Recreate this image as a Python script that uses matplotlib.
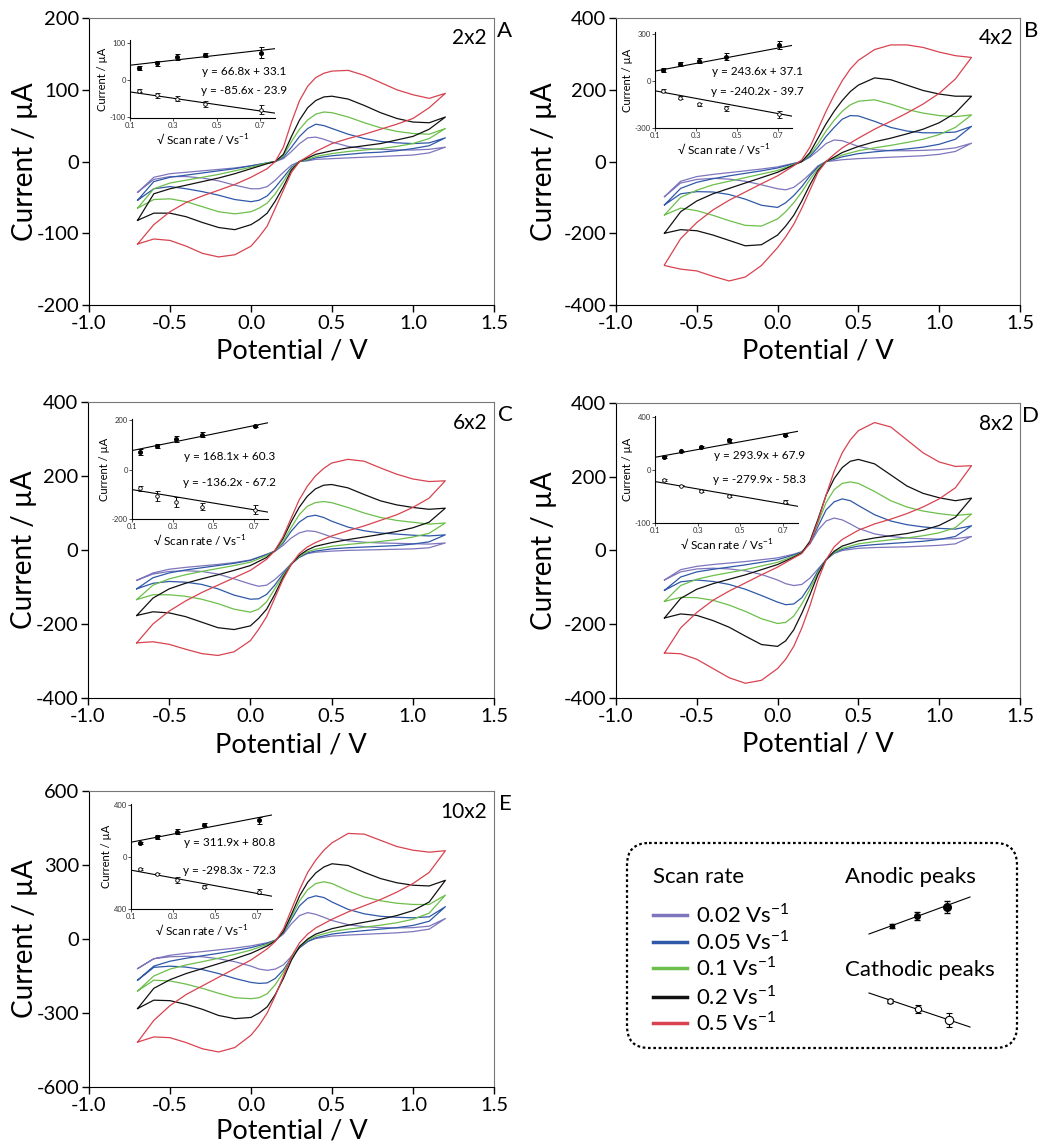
import matplotlib
matplotlib.use('Agg')
import matplotlib.pyplot as plt
import numpy as np
from matplotlib.patches import FancyBboxPatch

plt.rcParams['font.family'] = ['Lato', 'DejaVu Sans']
plt.rcParams['mathtext.fontset'] = 'custom'
plt.rcParams['mathtext.rm'] = 'Lato'
plt.rcParams['axes.unicode_minus'] = False

## scan rates (V/s) and colours
scan_rates = [0.02, 0.05, 0.1, 0.2, 0.5]
rate_labels = ['0.02 Vs$^{-1}$', '0.05 Vs$^{-1}$', '0.1 Vs$^{-1}$', '0.2 Vs$^{-1}$', '0.5 Vs$^{-1}$']
colors = ['#7d76bd', '#2f58a8', '#6cbf4a', '#111111', '#d8434f']

## potentials of the read points (forward sweep up, reverse sweep down)
E_fwd = [-0.7, -0.6, -0.5, -0.4, -0.3, -0.2, -0.1, 0.0, 0.1, 0.15, 0.2, 0.25, 0.3, 0.35, 0.4, 0.45, 0.5, 0.6, 0.7, 0.8, 0.9, 1.0, 1.1, 1.2]
E_rev = [1.2, 1.1, 1.0, 0.9, 0.8, 0.7, 0.6, 0.5, 0.4, 0.35, 0.3, 0.25, 0.2, 0.15, 0.1, 0.05, 0.0, -0.1, -0.2, -0.3, -0.4, -0.5, -0.6, -0.7]

## currents (uA), one row per scan rate
A_fwd = [[-43, -22, -17, -15, -13, -11, -9, -6, -2, 0, 4, 14, 25, 33, 34, 31, 27, 21, 18, 17, 16, 16, 17, 20],
         [-54, -28, -22, -19, -16, -13, -10, -6, -2, 0, 6, 20, 35, 46, 52, 50, 46, 38, 32, 28, 26, 25, 26, 33],
         [-65, -38, -30, -26, -22, -18, -13, -8, -2, 0, 8, 28, 45, 58, 66, 69, 68, 62, 54, 47, 42, 39, 38, 46],
         [-82, -45, -38, -33, -28, -23, -17, -10, -3, 0, 10, 35, 58, 75, 85, 90, 91, 87, 78, 68, 60, 55, 54, 62],
         [-115, -88, -70, -57, -48, -40, -32, -22, -10, 0, 20, 55, 85, 105, 117, 123, 126, 127, 120, 110, 100, 93, 88, 95]]
A_rev = [[20, 12, 9, 8, 7, 6, 5, 4, 3, 1, 0, -5, -15, -26, -35, -38, -38, -33, -27, -23, -21, -21, -25, -43],
         [33, 22, 18, 15, 13, 12, 10, 8, 5, 2, 0, -8, -22, -36, -48, -54, -56, -53, -47, -42, -38, -35, -38, -54],
         [46, 32, 25, 21, 18, 16, 14, 11, 7, 3, 0, -10, -28, -45, -58, -65, -70, -73, -70, -63, -56, -52, -53, -65],
         [62, 45, 35, 30, 25, 22, 19, 15, 10, 5, 0, -12, -35, -55, -72, -81, -88, -95, -92, -85, -77, -72, -72, -82],
         [95, 75, 60, 52, 45, 38, 32, 25, 14, 7, 0, -15, -40, -65, -90, -105, -118, -130, -133, -128, -118, -110, -108, -115]]

B_fwd = [[-98, -55, -42, -36, -31, -26, -21, -15, -5, 0, 12, 30, 50, 60, 58, 50, 42, 33, 30, 30, 31, 33, 38, 51],
         [-121, -75, -58, -48, -40, -33, -26, -18, -6, 0, 15, 40, 70, 95, 118, 128, 127, 112, 95, 85, 80, 80, 82, 98],
         [-149, -100, -80, -65, -55, -45, -35, -25, -8, 0, 20, 50, 85, 115, 140, 158, 168, 172, 160, 145, 135, 128, 125, 130],
         [-200, -140, -110, -90, -75, -60, -45, -30, -10, 0, 25, 65, 105, 140, 170, 195, 213, 233, 228, 213, 198, 188, 182, 182],
         [-288, -215, -170, -135, -108, -85, -62, -40, -12, 5, 40, 90, 140, 185, 225, 258, 282, 312, 325, 325, 318, 305, 295, 290]]
B_rev = [[51, 28, 20, 16, 14, 12, 10, 8, 5, 2, 0, -12, -35, -55, -72, -79, -76, -65, -55, -49, -47, -50, -60, -98],
         [98, 62, 48, 40, 35, 31, 27, 22, 13, 6, 0, -15, -40, -70, -95, -115, -128, -122, -105, -92, -85, -84, -90, -121],
         [130, 95, 75, 62, 53, 45, 38, 30, 18, 9, 0, -20, -50, -85, -115, -140, -160, -180, -178, -165, -150, -137, -130, -149],
         [182, 135, 108, 90, 77, 65, 55, 42, 25, 12, 0, -25, -65, -110, -150, -180, -205, -232, -235, -220, -205, -193, -190, -200],
         [290, 230, 190, 160, 135, 112, 90, 65, 38, 20, 0, -30, -80, -130, -175, -210, -240, -290, -322, -333, -320, -305, -300, -290]]

C_fwd = [[-82, -62, -52, -47, -43, -39, -34, -27, -12, -4, 12, 32, 46, 52, 50, 43, 35, 25, 21, 19, 18, 17, 16, 19],
         [-105, -75, -62, -54, -48, -42, -36, -28, -12, -3, 18, 50, 75, 90, 94, 88, 78, 62, 52, 46, 43, 40, 38, 41],
         [-134, -95, -78, -67, -58, -50, -42, -33, -15, -3, 22, 60, 95, 118, 128, 131, 128, 115, 100, 88, 80, 75, 70, 73],
         [-177, -130, -105, -90, -78, -67, -55, -42, -20, -2, 30, 75, 115, 145, 165, 175, 177, 168, 150, 133, 122, 115, 110, 113],
         [-251, -200, -165, -138, -115, -95, -75, -55, -25, -2, 35, 85, 135, 172, 200, 220, 235, 245, 240, 222, 205, 192, 185, 187]]
C_rev = [[19, 6, 3, 2, 1, 0, -1, -3, -6, -10, -20, -38, -60, -80, -95, -98, -92, -78, -65, -58, -56, -58, -65, -82],
         [41, 22, 16, 12, 10, 8, 6, 3, -3, -8, -20, -38, -65, -95, -120, -132, -133, -122, -105, -93, -87, -85, -90, -105],
         [73, 45, 35, 28, 23, 19, 15, 10, 2, -5, -18, -38, -70, -105, -140, -160, -168, -160, -145, -133, -125, -121, -121, -134],
         [113, 75, 60, 50, 42, 35, 28, 20, 10, 0, -15, -40, -75, -120, -160, -185, -205, -215, -210, -195, -180, -170, -167, -177],
         [187, 140, 115, 95, 80, 65, 52, 38, 20, 8, -10, -40, -80, -130, -180, -215, -245, -275, -285, -280, -268, -255, -248, -251]]

D_fwd = [[-80, -52, -43, -38, -34, -30, -25, -20, -10, -3, 18, 55, 80, 88, 83, 72, 60, 45, 38, 34, 32, 31, 32, 38],
         [-108, -72, -58, -51, -45, -39, -32, -25, -12, -4, 20, 65, 110, 132, 140, 135, 122, 97, 80, 70, 64, 60, 58, 67],
         [-138, -95, -78, -68, -60, -52, -42, -32, -15, -5, 22, 75, 130, 165, 182, 186, 182, 160, 135, 118, 107, 100, 95, 99],
         [-183, -130, -105, -90, -78, -66, -52, -38, -18, -6, 25, 85, 150, 195, 225, 242, 247, 235, 205, 175, 155, 143, 135, 142],
         [-278, -210, -168, -135, -110, -88, -66, -45, -20, -8, 20, 80, 150, 215, 265, 300, 325, 347, 335, 300, 265, 240, 228, 230]]
D_rev = [[38, 18, 14, 12, 10, 9, 8, 6, 0, -8, -25, -50, -75, -92, -95, -90, -80, -65, -55, -50, -48, -50, -58, -80],
         [67, 38, 30, 25, 22, 19, 16, 12, 3, -6, -25, -55, -95, -128, -145, -147, -140, -122, -105, -92, -84, -80, -85, -108],
         [99, 62, 48, 40, 34, 29, 24, 18, 6, -5, -25, -60, -105, -145, -178, -195, -198, -185, -165, -148, -135, -128, -127, -138],
         [142, 90, 68, 55, 46, 40, 34, 26, 12, -2, -25, -65, -120, -170, -215, -245, -260, -255, -232, -208, -190, -176, -172, -183],
         [230, 170, 140, 118, 100, 85, 72, 55, 30, 10, -25, -80, -150, -210, -260, -295, -320, -352, -360, -345, -320, -295, -280, -278]]

E_fwd_I = [[-120, -80, -66, -58, -51, -44, -37, -28, -15, -5, 20, 62, 95, 107, 100, 88, 75, 58, 50, 46, 45, 46, 52, 83],
           [-167, -110, -90, -78, -68, -58, -47, -35, -18, -5, 25, 80, 135, 165, 175, 168, 150, 120, 102, 92, 88, 86, 90, 131],
           [-211, -150, -122, -105, -92, -78, -62, -45, -22, -6, 28, 90, 155, 200, 225, 232, 225, 195, 170, 155, 145, 140, 140, 178],
           [-282, -200, -165, -140, -120, -100, -80, -58, -28, -8, 30, 100, 175, 230, 268, 292, 305, 298, 270, 245, 228, 218, 215, 238],
           [-418, -330, -270, -225, -190, -155, -120, -85, -40, -10, 40, 120, 200, 270, 320, 360, 390, 428, 425, 400, 375, 360, 352, 358]]
E_rev_I = [[83, 40, 30, 25, 22, 19, 16, 12, 2, -10, -35, -70, -105, -122, -127, -122, -110, -92, -80, -72, -70, -72, -80, -120],
           [131, 72, 55, 46, 40, 34, 28, 20, 5, -10, -35, -75, -125, -160, -178, -180, -176, -160, -140, -124, -114, -110, -115, -167],
           [178, 105, 80, 66, 56, 48, 40, 30, 12, -5, -30, -75, -135, -185, -222, -238, -242, -238, -220, -200, -183, -170, -167, -211],
           [238, 150, 115, 95, 80, 68, 56, 42, 20, 0, -30, -85, -160, -225, -275, -300, -318, -323, -310, -285, -265, -250, -248, -282],
           [358, 270, 225, 190, 160, 135, 110, 80, 45, 20, -15, -70, -150, -230, -300, -350, -390, -440, -458, -445, -420, -400, -397, -418]]

## inset: peak currents vs sqrt(scan rate)
A_anodic = [32, 45, 61, 67, 74];        A_anodic_err = [5, 6, 8, 6, 15]
A_cathodic = [-29, -42, -51, -65, -81]; A_cathodic_err = [5, 6, 7, 8, 12]
B_anodic = [69, 107, 128, 154, 229];        B_anodic_err = [10, 10, 18, 25, 25]
B_cathodic = [-64, -107, -150, -176, -214]; B_cathodic_err = [10, 8, 8, 18, 25]
C_anodic = [73, 95, 125, 142, 176];         C_anodic_err = [12, 8, 12, 10, 5]
C_cathodic = [-76, -108, -130, -150, -163]; C_cathodic_err = [10, 20, 20, 15, 18]
D_anodic = [100, 143, 175, 225, 268];       D_anodic_err = [8, 5, 8, 10, 10]
D_cathodic = [-75, -118, -155, -193, -238]; D_cathodic_err = [6, 5, 8, 8, 12]
E_anodic = [105, 151, 194, 246, 279];       E_anodic_err = [8, 15, 18, 12, 30]
E_cathodic = [-95, -133, -176, -228, -266]; E_cathodic_err = [8, 10, 25, 10, 20]

## linear fits (slope, intercept)
A_fits = [(66.8, 33.1), (-85.6, -23.9)]
B_fits = [(243.6, 37.1), (-240.2, -39.7)]
C_fits = [(168.1, 60.3), (-136.2, -67.2)]
D_fits = [(293.9, 67.9), (-279.9, -58.3)]
E_fits = [(311.9, 80.8), (-298.3, -72.3)]

electrodes = ['2x2', '4x2', '6x2', '8x2', '10x2']
letters = ['A', 'B', 'C', 'D', 'E']
main_ylims = [200, 400, 400, 400, 600]
inset_ylims = [(-103, 108), (-300, 310), (-200, 205), (-400, 410), (-400, 405)]
inset_yticks = [[-100, 0, 100], [-300, 0, 300], [-200, 0, 200], [-400, 0, 400], [-400, 0, 400]]
inset_yticklabels = [['-100', '0', '100'], ['-300', '0', '300'], ['-200', '0', '200'], ['-100', '0', '400'], ['400', '0', '400']]

W = 1044; H = 1145
def px(l, t, r, b):
	return [l/W, 1-b/H, (r-l)/W, (b-t)/H]

main_boxes = [px(89, 18, 494, 305), px(616, 18, 1020, 305), px(88, 402, 494, 698), px(616, 403, 1020, 698), px(89, 791, 494, 1087)]
inset_boxes = [px(130, 40, 275, 118), px(655, 32, 792, 128), px(132, 419, 268, 519), px(655, 416, 798, 523), px(131, 804, 272, 909)]
eq_pos = [(0.79, 0.60, 0.35), (0.75, 0.59, 0.385), (0.72, 0.62, 0.36), (0.73, 0.63, 0.41), (0.70, 0.63, 0.37)]
ylab_x = [-0.125, -0.146, -0.125, -0.146, -0.125]
xlab_y = [-0.115, -0.115, -0.115, -0.115, -0.105]

fwd_all = [A_fwd, B_fwd, C_fwd, D_fwd, E_fwd_I]
rev_all = [A_rev, B_rev, C_rev, D_rev, E_rev_I]
anodic_all = [(A_anodic, A_anodic_err), (B_anodic, B_anodic_err), (C_anodic, C_anodic_err), (D_anodic, D_anodic_err), (E_anodic, E_anodic_err)]
cathodic_all = [(A_cathodic, A_cathodic_err), (B_cathodic, B_cathodic_err), (C_cathodic, C_cathodic_err), (D_cathodic, D_cathodic_err), (E_cathodic, E_cathodic_err)]
fits_all = [A_fits, B_fits, C_fits, D_fits, E_fits]

sqrt_rate = np.sqrt(scan_rates)

fig = plt.figure(figsize=(10.44, 11.45), dpi=100)

for k in range(5):
	ax = fig.add_axes(main_boxes[k])
	for i in range(5):
		x = E_fwd + E_rev
		y = fwd_all[k][i] + rev_all[k][i]
		ax.plot(x, y, '-', color=colors[i], lw=0.9, solid_joinstyle='round')
	ym = main_ylims[k]
	ax.set_xlim(-1.0, 1.5); ax.set_ylim(-ym, ym)
	ax.set_xticks([-1.0, -0.5, 0.0, 0.5, 1.0, 1.5])
	ax.set_xticklabels(['%.1f' % v for v in [-1.0, -0.5, 0.0, 0.5, 1.0, 1.5]])
	ax.set_yticks(np.linspace(-ym, ym, 5))
	ax.tick_params(direction='out', length=5, width=1, labelsize=14.5, pad=2)
	for s in ['top', 'right']:
		ax.spines[s].set_color('#777777')
	ax.set_xlabel('Potential / V', fontsize=19.5)
	ax.set_ylabel('Current / µA', fontsize=20)
	ax.xaxis.set_label_coords(0.5, xlab_y[k])
	ax.yaxis.set_label_coords(ylab_x[k], 0.5)
	ax.text(0.983, 0.93, electrodes[k], transform=ax.transAxes, ha='right', va='center', fontsize=15)
	ax.text(1.027, 0.955, letters[k], transform=ax.transAxes, ha='center', va='center', fontsize=16)

	## inset
	ai = fig.add_axes(inset_boxes[k])
	ai.patch.set_alpha(0)
	xl = np.array([0.1, 0.77])
	for (m, b) in fits_all[k]:
		ai.plot(xl, m*xl + b, '-', color='k', lw=0.8)
	ya, ea = anodic_all[k]
	yc, ec = cathodic_all[k]
	ai.errorbar(sqrt_rate, ya, yerr=ea, fmt='o', ms=2.6, mfc='k', mec='k', ecolor='k', elinewidth=0.7, capsize=1.8, capthick=0.7)
	ai.errorbar(sqrt_rate, yc, yerr=ec, fmt='o', ms=2.6, mfc='white', mec='k', mew=0.6, ecolor='k', elinewidth=0.7, capsize=1.8, capthick=0.7)
	ai.set_xlim(0.1, 0.77); ai.set_ylim(*inset_ylims[k])
	ai.set_xticks([0.1, 0.3, 0.5, 0.7]); ai.set_xticklabels(['0.1', '0.3', '0.5', '0.7'])
	ai.set_yticks(inset_yticks[k]); ai.set_yticklabels(inset_yticklabels[k])
	ai.spines['top'].set_visible(False); ai.spines['right'].set_visible(False)
	for s in ['left', 'bottom']:
		ai.spines[s].set_linewidth(0.8)
	ai.tick_params(direction='out', length=2, width=0.6, labelsize=5.5, pad=1, colors='#333333')
	ai.set_ylabel('Current / µA', fontsize=8, labelpad=1)
	ai.set_xlabel('√ Scan rate / Vs$^{-1}$', fontsize=8.5, labelpad=1)
	ex, ey1, ey2 = eq_pos[k]
	for (m, b), yy in zip(fits_all[k], [ey1, ey2]):
		sign = '+' if b >= 0 else '-'
		ai.text(ex, yy, 'y = %.1fx %s %.1f' % (m, sign, abs(b)), transform=ai.transAxes, ha='center', va='center', fontsize=8.5)

## legend box
lg = fig.add_axes(px(620, 836, 1024, 1055))
lg.set_xlim(-7, 397); lg.set_ylim(212, -7); lg.axis('off')
lg.add_patch(FancyBboxPatch((0, 0), 390, 205, boxstyle='round,pad=0,rounding_size=22', fill=False, ls=(0, (1.2, 1.2)), lw=1.6, ec='k'))
lg.text(26, 34, 'Scan rate', fontsize=16, va='center', ha='left')
row_y = [72, 99, 125, 154, 180]
for i in range(5):
	lg.plot([26, 60], [row_y[i], row_y[i]], '-', color=colors[i], lw=2.5)
	lg.text(69, row_y[i], rate_labels[i], fontsize=16, va='center', ha='left')
lg.text(218, 34, 'Anodic peaks', fontsize=16, va='center', ha='left')
lg.text(218, 127, 'Cathodic peaks', fontsize=16, va='center', ha='left')
## legend glyphs
an_x = [265, 290, 320]; an_y = [83, 73, 64]; an_e = [2, 4, 6]; an_ms = [3, 4, 5.5]
ca_x = [263, 291, 322]; ca_y = [158, 166, 177]; ca_e = [2, 4, 7]; ca_ms = [4, 4.5, 6]
lg.plot([242, 343], [91, 54], '-', color='k', lw=0.8)
lg.plot([242, 343], [150, 184], '-', color='k', lw=0.8)
for i in range(3):
	lg.errorbar(an_x[i], an_y[i], yerr=an_e[i], fmt='o', ms=an_ms[i], mfc='k', mec='k', ecolor='k', elinewidth=0.8, capsize=2)
	lg.errorbar(ca_x[i], ca_y[i], yerr=ca_e[i], fmt='o', ms=ca_ms[i], mfc='white', mec='k', mew=0.8, ecolor='k', elinewidth=0.8, capsize=2)

plt.savefig('out.png', dpi=100)
